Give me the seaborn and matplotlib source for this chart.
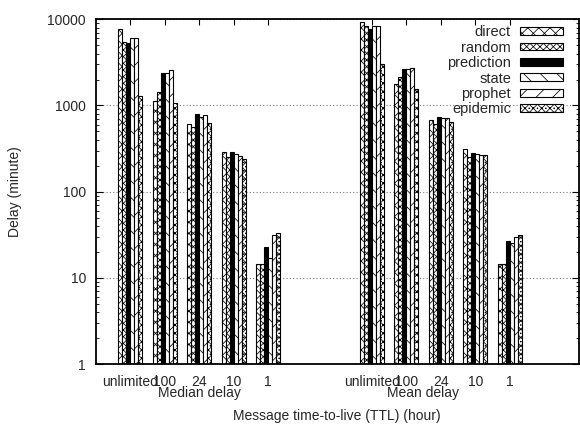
import matplotlib
matplotlib.use("Agg")
import matplotlib.pyplot as plt
import matplotlib.ticker as mticker
from matplotlib.patches import Rectangle
import numpy as np
import pandas as pd
import seaborn as sns

# Delay per routing method, for each message TTL setting
ttl_labels = ["unlimited", "100", "24", "10", "1"]
methods = ["direct", "random", "prediction", "state", "prophet", "epidemic"]

median_direct = [7800, 1125, 604, 287, 14.4]
median_random = [5450, 1440, 566, 251, 14.4]
median_prediction = [5350, 2400, 788, 285, 22.9]
median_state = [6000, 2400, 728, 271, 17.2]
median_prophet = [6000, 2570, 774, 260, 31.0]
median_epidemic = [1280, 1057, 625, 238, 33.5]

mean_direct = [9200, 1770, 677, 315, 14.4]
mean_random = [8340, 2120, 604, 250, 14.4]
mean_prediction = [7690, 2620, 739, 283, 26.7]
mean_state = [8300, 2620, 714, 273, 25.1]
mean_prophet = [8340, 2690, 714, 268, 29.5]
mean_epidemic = [3030, 1560, 642, 264, 31.4]

median_series = [median_direct, median_random, median_prediction,
                 median_state, median_prophet, median_epidemic]
mean_series = [mean_direct, mean_random, mean_prediction,
               mean_state, mean_prophet, mean_epidemic]

# long-form table; two empty slots separate the median and mean blocks
median_keys = ["med " + t for t in ttl_labels]
mean_keys = ["mean " + t for t in ttl_labels]
order = median_keys + ["gap a", "gap b"] + mean_keys

rows = []
for m, vals in zip(methods, median_series):
    for k, v in zip(median_keys, vals):
        rows.append({"slot": k, "method": m, "delay": v})
for m, vals in zip(methods, mean_series):
    for k, v in zip(mean_keys, vals):
        rows.append({"slot": k, "method": m, "delay": v})
df = pd.DataFrame(rows)

sns.set_style("ticks")
plt.rcParams["font.family"] = ["Liberation Sans", "DejaVu Sans"]
plt.rcParams["hatch.linewidth"] = 0.55
plt.rcParams["hatch.color"] = "black"

fig = plt.figure(figsize=(5.8, 4.24), dpi=100)
ax = fig.add_axes([95.7 / 580, 60 / 424, 483 / 580, 344.7 / 424])

palette = {m: "white" for m in methods}
palette["prediction"] = "black"
hatches = {"direct": "xxx", "random": "xxxxx", "prediction": "",
           "state": "\\\\", "prophet": "//", "epidemic": "xxxx...."}

sns.barplot(data=df, x="slot", y="delay", hue="method", order=order,
            hue_order=methods, palette=palette, width=0.69, gap=0,
            edgecolor="black", linewidth=0.8, errorbar=None,
            legend=False, ax=ax)
ax.set_yscale("log", nonpositive="clip")

for cont, m in zip(ax.containers, methods):
    for bar in cont:
        bar.set_hatch(hatches[m])
        bar.set_edgecolor("black")

ax.set_ylim(1, 10000)
ax.set_xlim(-1, 13)

pos = [0, 1, 2, 3, 4, 7, 8, 9, 10, 11]
ax.set_xticks(pos)
ax.set_xticklabels(ttl_labels + ttl_labels)
ax.yaxis.set_major_locator(mticker.FixedLocator([1, 10, 100, 1000, 10000]))
ax.yaxis.set_major_formatter(mticker.FuncFormatter(lambda v, p: f"{v:g}"))
ax.yaxis.set_minor_locator(mticker.LogLocator(base=10, subs=np.arange(2, 10)))
ax.yaxis.set_minor_formatter(mticker.NullFormatter())

ax.tick_params(axis="both", which="both", direction="in",
               top=True, right=True, labelsize=10, color="black")
ax.tick_params(axis="y", which="major", length=5, width=0.8, pad=7)
ax.tick_params(axis="y", which="minor", length=2.5, width=0.6)
ax.tick_params(axis="x", which="major", length=4, width=0.8, pad=8)

for s in ax.spines.values():
    s.set_linewidth(1.3)
    s.set_color("black")

ax.set_axisbelow(True)
ax.yaxis.grid(True, which="major", linestyle=(0, (1, 2)), color="#777777",
              linewidth=0.8)
ax.xaxis.grid(False)

ax.set_ylabel("Delay (minute)", fontsize=10)
ax.yaxis.set_label_coords(-0.152, 0.5)
ax.set_xlabel("Message time-to-live (TTL) (hour)", fontsize=10)
ax.xaxis.set_label_coords(0.5, -0.13)

ax.text(2, -0.064, "Median delay", transform=ax.get_xaxis_transform(),
        ha="center", va="top", fontsize=10)
ax.text(8.5, -0.064, "Mean delay", transform=ax.get_xaxis_transform(),
        ha="center", va="top", fontsize=10)

# legend: label on the left, pattern swatch on the right
leg_handles = [Rectangle((0, 0), 1, 1, facecolor=palette[m], edgecolor="black",
                         hatch=hatches[m], linewidth=0.8) for m in methods]
ax.legend(leg_handles, methods, loc="upper right",
          bbox_to_anchor=(0.967, 0.983), markerfirst=False, frameon=False,
          fontsize=10.5, handlelength=2.9, handleheight=0.45,
          handletextpad=0.65, labelspacing=0.1, borderaxespad=0, borderpad=0)

fig.savefig("out.png", dpi=100)
